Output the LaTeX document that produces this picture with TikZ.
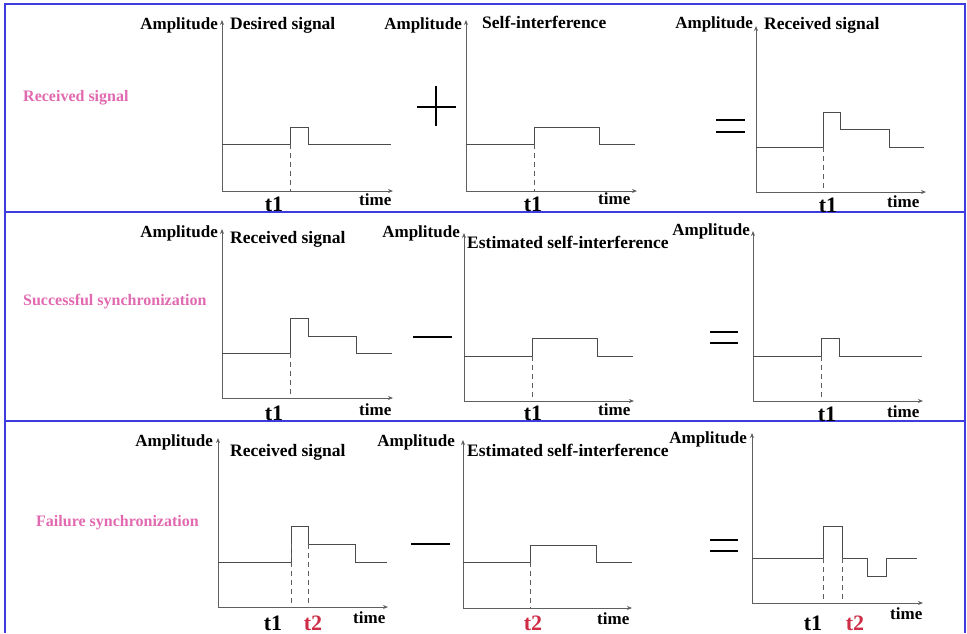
\documentclass[tikz,border=0pt]{standalone}
\usepackage{fontspec}
\setmainfont{Liberation Serif}
\usetikzlibrary{arrows.meta,positioning}

\definecolor{frameblue}{RGB}{60,60,225}
\definecolor{axisgray}{RGB}{95,95,95}
\definecolor{wavegray}{RGB}{75,75,75}
\definecolor{caseink}{RGB}{225,105,175}
\definecolor{tickred}{RGB}{205,45,70}

\begin{document}
\begin{tikzpicture}[x=1pt, y=-1pt,
  frame/.style={draw=frameblue, line width=2pt},
  axis/.style={draw=axisgray, line width=1pt,
    arrows={Stealth[length=5pt,width=4pt]-Stealth[length=5pt,width=4pt]}},
  wave/.style={draw=wavegray, line width=1pt},
  guide/.style={draw=axisgray, line width=0.8pt, dash pattern=on 5pt off 4pt},
  opsign/.style={draw=black, line width=1.2pt},
  lbl/.style={font=\fontsize{17}{17}\selectfont\bfseries, inner sep=0pt},
  ttl/.style={font=\fontsize{17.5}{17.5}\selectfont\bfseries, inner sep=0pt, anchor=base west},
  tick/.style={font=\fontsize{22}{22}\selectfont\bfseries, inner sep=0pt, anchor=base},
  case/.style={font=\fontsize{16}{16}\selectfont\bfseries, text=caseink, inner sep=0pt, anchor=base west}]

\useasboundingbox (0,0) rectangle (967,633);

% frame
\draw[frame] (5,633) -- (5,4) -- (965,4) -- (965,633);
\draw[frame] (5,212) -- (965,212);
\draw[frame] (5,421) -- (965,421);

% axes: name/origin x/origin y/top/x end
\foreach \p/\ox/\oy/\ty/\xe in {a/222/191/20/393, b/466/191/20/637, c/756/192/26/926,
    d/222/398/229/393, e/464/401/233/634, f/753/401/231/923,
    g/218/607/438/388, h/463/608/440/632, k/752/603/433/923}{
  \coordinate (\p-o) at (\ox,\oy);
  \coordinate (\p-y) at (\ox,\ty);
  \coordinate (\p-x) at (\xe,\oy);
  \draw[axis] (\p-y) -- (\p-o) -- (\p-x);
}

% row 1
\node[case] (case1) at (23,101) {Received signal};
\node[lbl, anchor=base east] (amp-a) at (218,29) {Amplitude};
\node[ttl] (ttl-a) at (230,29) {Desired signal};
\draw[wave] (a-o |- 0,144) -- (290,144) -- (290,127) -- (308,127) -- (308,144) -- (391,144);
\draw[guide] (290,144) -- (290,0 |- a-o);
\node[tick] (t1-a) at (274,211) {t1};
\node[lbl, anchor=base west] (time-a) at (359,205) {time};

\draw[opsign] (417,107) -- (456,107);
\draw[opsign] (436,86) -- (436,126);

\node[lbl, anchor=base east] (amp-b) at (462,29) {Amplitude};
\node[ttl] (ttl-b) at (482,28) {Self-interference};
\draw[wave] (b-o |- 0,144) -- (534,144) -- (534,127) -- (599,127) -- (599,144) -- (635,144);
\draw[guide] (534,144) -- (534,0 |- b-o);
\node[tick] (t1-b) at (533,211) {t1};
\node[lbl, anchor=base west] (time-b) at (598,204) {time};

\draw[opsign] (716,120) -- (745,120);
\draw[opsign] (716,132) -- (745,132);

\node[lbl, anchor=base east] (amp-c) at (753,28) {Amplitude};
\node[ttl] (ttl-c) at (764,29) {Received signal};
\draw[wave] (c-o |- 0,147) -- (823,147) -- (823,112) -- (840,112) -- (840,129) -- (889,129) -- (889,147) -- (924,147);
\draw[guide] (823,147) -- (823,0 |- c-o);
\node[tick] (t1-c) at (828,212) {t1};
\node[lbl, anchor=base west] (time-c) at (887,207) {time};

% row 2
\node[case] (case2) at (23,305) {Successful synchronization};
\node[lbl, anchor=base east] (amp-d) at (218,237) {Amplitude};
\node[ttl] (ttl-d) at (230,243) {Received signal};
\draw[wave] (d-o |- 0,353) -- (290,353) -- (290,318) -- (308,318) -- (308,336) -- (356,336) -- (356,353) -- (392,353);
\draw[guide] (290,353) -- (290,0 |- d-o);
\node[tick] (t1-d) at (274,420) {t1};
\node[lbl, anchor=base west] (time-d) at (359,415) {time};

\draw[opsign] (413,337) -- (452,337);

\node[lbl, anchor=base east] (amp-e) at (460,237) {Amplitude};
\node[ttl] (ttl-e) at (467,248) {Estimated self-interference};
\draw[wave] (e-o |- 0,356) -- (532,356) -- (532,338) -- (597,338) -- (597,356) -- (633,356);
\draw[guide] (532,356) -- (532,0 |- e-o);
\node[tick] (t1-e) at (533,420) {t1};
\node[lbl, anchor=base west] (time-e) at (598,415) {time};

\draw[opsign] (710,332) -- (738,332);
\draw[opsign] (710,343) -- (738,343);

\node[lbl, anchor=base east] (amp-f) at (750,235) {Amplitude};
\draw[wave] (f-o |- 0,356) -- (821,356) -- (821,338) -- (839,338) -- (839,356) -- (922,356);
\draw[guide] (821,356) -- (821,0 |- f-o);
\node[tick] (t1-f) at (827,421) {t1};
\node[lbl, anchor=base west] (time-f) at (887,417) {time};

% row 3
\node[case] (case3) at (36,526) {Failure synchronization};
\node[lbl, anchor=base east] (amp-g) at (213,446) {Amplitude};
\node[ttl] (ttl-g) at (230,456) {Received signal};
\draw[wave] (g-o |- 0,562) -- (291,562) -- (291,526) -- (308,526) -- (308,544) -- (355,544) -- (355,562) -- (387,562);
\draw[guide] (291,544) -- (291,0 |- g-o);
\draw[guide] (308,544) -- (308,0 |- g-o);
\node[tick] (t1-g) at (273,630) {t1};
\node[tick, text=tickred] (t2-g) at (313,630) {t2};
\node[lbl, anchor=base west] (time-g) at (353,623) {time};

\draw[opsign] (411,544) -- (450,544);

\node[lbl, anchor=base east] (amp-h) at (455,446) {Amplitude};
\node[ttl] (ttl-h) at (467,456) {Estimated self-interference};
\draw[wave] (h-o |- 0,562) -- (530,562) -- (530,545) -- (596,545) -- (596,562) -- (632,562);
\draw[guide] (530,562) -- (530,0 |- h-o);
\node[tick, text=tickred] (t2-h) at (533,630) {t2};
\node[lbl, anchor=base west] (time-h) at (597,624) {time};

\draw[opsign] (710,540) -- (738,540);
\draw[opsign] (710,551) -- (738,551);

\node[lbl, anchor=base east] (amp-k) at (747,443) {Amplitude};
\draw[wave] (k-o |- 0,558) -- (823,558) -- (823,526) -- (842,526) -- (842,558) -- (867,558) -- (867,576) -- (886,576) -- (886,558) -- (917,558);
\draw[guide] (823,558) -- (823,0 |- k-o);
\draw[guide] (842,558) -- (842,0 |- k-o);
\node[tick] (t1-k) at (813,630) {t1};
\node[tick, text=tickred] (t2-k) at (855,630) {t2};
\node[lbl, anchor=base west] (time-k) at (890,619) {time};
\end{tikzpicture}
\end{document}
